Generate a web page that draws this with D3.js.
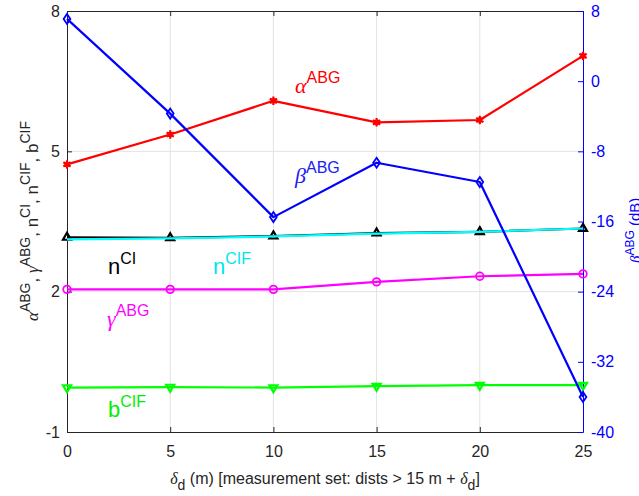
<!DOCTYPE html>
<html>
<head>
<meta charset="utf-8">
<script src="https://cdn.jsdelivr.net/npm/d3@7"></script>
<style>
  html, body { margin: 0; padding: 0; background: #fff; }
  svg { display: block; }
</style>
</head>
<body>
<svg id="chart" width="639" height="496"></svg>
<script>
// Offset values δd (m)
const deltaD = [0, 5, 10, 15, 20, 25];

// Left-axis series
const alphaABG = [4.72, 5.36, 6.08, 5.62, 5.67, 7.04];
const gammaABG = [2.05, 2.05, 2.05, 2.21, 2.33, 2.38];
const nCI      = [3.16, 3.15, 3.19, 3.25, 3.28, 3.35];
const nCIF     = [3.12, 3.14, 3.18, 3.24, 3.28, 3.35];
const bCIF     = [-0.05, -0.04, -0.05, -0.02, 0.0, 0.0];

// Right-axis series (dB)
const betaABG  = [7.1, -3.7, -15.5, -9.3, -11.5, -36.0];

// Tick values
const xTicks      = [0, 5, 10, 15, 20, 25];
const yLeftTicks  = [-1, 2, 5, 8];
const yRightTicks = [8, 0, -8, -16, -24, -32, -40];

const svg = d3.select("#chart");
const W = 639, H = 496;
const plot = { left: 67, right: 583, top: 11, bottom: 432 };

const SANS = "'Liberation Sans', Arial, Helvetica, sans-serif";
const SERIF = "'Liberation Serif', 'Times New Roman', serif";
const BLUE = "#0000ff";
const plain = d => String(d);

const x = d3.scaleLinear().domain([0, 25]).range([plot.left, plot.right]);
const yL = d3.scaleLinear().domain([-1, 8]).range([plot.bottom, plot.top]);
const yR = d3.scaleLinear().domain([-40, 8]).range([plot.bottom, plot.top]);

svg.append("rect").attr("width", W).attr("height", H).attr("fill", "#fff");

// Grid
const grid = svg.append("g").attr("stroke", "#e3e3e3").attr("stroke-width", 1);
[5, 10, 15, 20].forEach(v => {
  grid.append("line").attr("x1", x(v)).attr("x2", x(v))
    .attr("y1", plot.top).attr("y2", plot.bottom);
});
[2, 5].forEach(v => {
  grid.append("line").attr("x1", plot.left).attr("x2", plot.right)
    .attr("y1", yL(v)).attr("y2", yL(v));
});

// Axes
const xAxis = d3.axisBottom(x).tickValues(xTicks).tickSizeInner(-5).tickSizeOuter(0).tickPadding(14).tickFormat(plain);
const gx = svg.append("g").attr("transform", `translate(0,${plot.bottom})`).call(xAxis);
gx.selectAll("text").attr("font-family", SANS).attr("font-size", 16).attr("fill", "#262626");
gx.selectAll("line, path").attr("stroke", "#262626");

const xTop = d3.axisTop(x).tickValues(xTicks).tickSizeInner(-5).tickSizeOuter(0).tickFormat("");
const gxt = svg.append("g").attr("transform", `translate(0,${plot.top})`).call(xTop);
gxt.selectAll("line, path").attr("stroke", "#262626");

const yAxisL = d3.axisLeft(yL).tickValues(yLeftTicks).tickSizeInner(-5).tickSizeOuter(0).tickPadding(7).tickFormat(plain);
const gyl = svg.append("g").attr("transform", `translate(${plot.left},0)`).call(yAxisL);
gyl.selectAll("text").attr("font-family", SANS).attr("font-size", 16).attr("fill", "#262626");
gyl.selectAll("line, path").attr("stroke", "#262626");

const yAxisR = d3.axisRight(yR).tickValues(yRightTicks).tickSizeInner(-5).tickSizeOuter(0).tickPadding(8).tickFormat(plain);
const gyr = svg.append("g").attr("transform", `translate(${plot.right},0)`).call(yAxisR);
gyr.selectAll("text").attr("font-family", SANS).attr("font-size", 16).attr("fill", BLUE);
gyr.selectAll("line, path").attr("stroke", BLUE);

// Series
const series = [
  { vals: nCI,      y: yL, color: "#000000", marker: "triUp" },
  { vals: nCIF,     y: yL, color: "#00ffff", marker: null },
  { vals: gammaABG, y: yL, color: "#ff00ff", marker: "circle" },
  { vals: bCIF,     y: yL, color: "#00ff00", marker: "triDown" },
  { vals: alphaABG, y: yL, color: "#ff0000", marker: "star" },
  { vals: betaABG,  y: yR, color: "#0000ff", marker: "diamond" }
];

const lines = svg.append("g");
series.forEach(s => {
  const line = d3.line().x((d, i) => x(deltaD[i])).y(d => s.y(d));
  lines.append("path").datum(s.vals)
    .attr("d", line).attr("fill", "none")
    .attr("stroke", s.color).attr("stroke-width", 2.2).attr("stroke-linejoin", "round");
  if (!s.marker) return;
  const g = lines.append("g");
  s.vals.forEach((v, i) => {
    const px = x(deltaD[i]), py = s.y(v);
    if (s.marker === "circle") {
      g.append("circle").attr("cx", px).attr("cy", py).attr("r", 3.8)
        .attr("fill", "none").attr("stroke", s.color).attr("stroke-width", 1.8);
    } else if (s.marker === "triUp" || s.marker === "triDown") {
      const t = d3.symbol(d3.symbolTriangle, 28)();
      g.append("path").attr("d", t)
        .attr("transform", `translate(${px},${py})` + (s.marker === "triDown" ? " rotate(180)" : ""))
        .attr("fill", "none").attr("stroke", s.color).attr("stroke-width", 2.2);
    } else if (s.marker === "diamond") {
      g.append("path").attr("d", "M0,-5L3.4,0L0,5L-3.4,0Z")
        .attr("transform", `translate(${px},${py})`)
        .attr("fill", "none").attr("stroke", s.color).attr("stroke-width", 1.8);
    } else if (s.marker === "star") {
      g.append("path").attr("d", d3.symbol(d3.symbolAsterisk, 50)())
        .attr("transform", `translate(${px},${py})`)
        .attr("fill", "none").attr("stroke", s.color).attr("stroke-width", 2.2);
      g.append("rect").attr("x", px - 2.5).attr("y", py - 2.5).attr("width", 5).attr("height", 5)
        .attr("fill", s.color);
    }
  });
});

// Rich text helper: parts are [text, kind] with kind in main | greek | sup | sub
function rich(sel, parts, o) {
  const t = sel.append("text")
    .attr("font-family", SANS).attr("font-size", o.main).attr("fill", o.color)
    .attr("text-anchor", o.anchor || "start");
  let shift = 0;
  parts.forEach(([txt, kind]) => {
    const sp = t.append("tspan").text(txt);
    let target = 0;
    if (kind === "sup") { target = -o.supShift; sp.attr("font-size", o.sup); }
    else if (kind === "sub") { target = o.subShift; sp.attr("font-size", o.sup); }
    if (kind === "greek") sp.attr("font-family", SERIF).attr("font-style", "italic");
    sp.attr("dy", target - shift);
    shift = target;
  });
  return t;
}

// In-plot series labels
const labelOpts = { main: 22, sup: 16, supShift: 10 };
const labels = [
  { parts: [["α", "greek"], ["ABG", "sup"]], x: 295, y: 93, color: "#ff0000" },
  { parts: [["β", "greek"], ["ABG", "sup"]], x: 295, y: 183, color: "#2020f0" },
  { parts: [["n", "main"], ["CI", "sup"]], x: 108, y: 274, color: "#000000" },
  { parts: [["n", "main"], ["CIF", "sup"]], x: 213, y: 274, color: "#00e5ee" },
  { parts: [["γ", "greek"], ["ABG", "sup"]], x: 107, y: 326, color: "#ff00ff" },
  { parts: [["b", "main"], ["CIF", "sup"]], x: 108, y: 417, color: "#00ee00" }
];
labels.forEach(l => {
  rich(svg, l.parts, Object.assign({ color: l.color }, labelOpts))
    .attr("x", l.x).attr("y", l.y);
});

// X-axis title
const xt = rich(svg, [["δ", "greek"], ["d", "sub"], [" (m) [measurement set: dists > 15 m + ", "main"], ["δ", "greek"], ["d", "sub"], ["]", "main"]],
  { main: 16, sup: 14, subShift: 6, supShift: 0, color: "#262626", anchor: "middle" });
xt.attr("x", (plot.left + plot.right) / 2).attr("y", 484);

// Left y-axis title
rich(svg.append("g").attr("transform", "translate(38,221) rotate(-90)"),
  [["α", "greek"], ["ABG", "sup"], [", ", "main"], ["γ", "greek"], ["ABG", "sup"],
   [", n", "main"], ["CI", "sup"], [", n", "main"], ["CIF", "sup"], [", b", "main"], ["CIF", "sup"]],
  { main: 17, sup: 14, supShift: 8, color: "#262626", anchor: "middle" });

// Right y-axis title
rich(svg.append("g").attr("transform", "translate(640,263) rotate(-90)"),
  [["β", "greek"], ["ABG", "sup"], [" (dB)", "main"]],
  { main: 15, sup: 12, supShift: 6, color: BLUE, anchor: "start" });
</script>
</body>
</html>
